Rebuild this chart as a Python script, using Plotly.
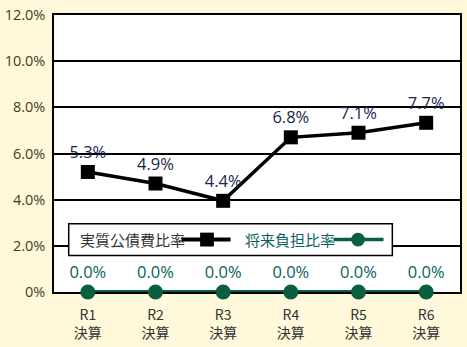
import plotly.graph_objects as go

categories = ["R1<br>決算", "R2<br>決算", "R3<br>決算", "R4<br>決算", "R5<br>決算", "R6<br>決算"]
# plotted positions (%)
debt_service_ratio = [5.2, 4.7, 3.95, 6.7, 6.9, 7.33]
debt_service_labels = ["5.3%", "4.9%", "4.4%", "6.8%", "7.1%", "7.7%"]
future_burden_ratio = [0.0, 0.0, 0.0, 0.0, 0.0, 0.0]
future_burden_labels = ["0.0%", "0.0%", "0.0%", "0.0%", "0.0%", "0.0%"]
ytick_vals = [0, 2, 4, 6, 8, 10, 12]
ytick_text = ["0%", "2.0%", "4.0%", "6.0%", "8.0%", "10.0%", "12.0%"]
series_names = ["実質公債費比率", "将来負担比率"]

BLACK = "#000000"
GREEN = "#0a5f40"
NAVY = "#1b2450"
TEAL = "#0b5f5c"
BG = "#fff8da"
FONT = "Noto Sans CJK JP"

fig = go.Figure()
fig.add_trace(go.Scatter(
    x=categories, y=future_burden_ratio, mode="lines+markers+text",
    text=future_burden_labels, textposition="top center",
    textfont=dict(color=TEAL, size=16.5, family="Open Sans"),
    line=dict(color=GREEN, width=4),
    marker=dict(symbol="circle", size=15, color=GREEN),
    cliponaxis=False, showlegend=False, name=series_names[1]))
fig.add_trace(go.Scatter(
    x=categories, y=debt_service_ratio, mode="lines+markers+text",
    text=debt_service_labels, textposition="top center",
    textfont=dict(color=NAVY, size=16.5, family="Open Sans"),
    line=dict(color=BLACK, width=3.5),
    marker=dict(symbol="square", size=14, color=BLACK),
    cliponaxis=False, showlegend=False, name=series_names[0]))

# manual legend (text followed by symbol)
fig.add_shape(type="rect", xref="paper", yref="paper",
              x0=(63 - 48) / 414, x1=(393 - 48) / 414,
              y0=(292 - 255) / 280, y1=(292 - 223) / 280,
              line=dict(color=BLACK, width=1.5), fillcolor="white", layer="above")
ly = (292 - 239) / 280
fig.add_annotation(xref="paper", yref="paper", x=(72 - 48) / 414, y=ly,
                   text=series_names[0], showarrow=False, xanchor="left", yanchor="middle",
                   font=dict(family=FONT, size=15, color="#333333"))
fig.add_shape(type="line", xref="paper", yref="paper",
              x0=(178 - 48) / 414, x1=(228 - 48) / 414, y0=ly, y1=ly,
              line=dict(color=BLACK, width=4), layer="above")
fig.add_shape(type="rect", xref="paper", yref="paper",
              x0=(197 - 48) / 414, x1=(211 - 48) / 414,
              y0=ly - 7 / 280, y1=ly + 7 / 280,
              line=dict(color=BLACK, width=0), fillcolor=BLACK, layer="above")
fig.add_annotation(xref="paper", yref="paper", x=(241 - 48) / 414, y=ly,
                   text=series_names[1], showarrow=False, xanchor="left", yanchor="middle",
                   font=dict(family=FONT, size=15, color=TEAL))
fig.add_shape(type="line", xref="paper", yref="paper",
              x0=(333 - 48) / 414, x1=(384 - 48) / 414, y0=ly, y1=ly,
              line=dict(color=GREEN, width=3.5), layer="above")
fig.add_shape(type="circle", xref="paper", yref="paper",
              x0=(351 - 48) / 414, x1=(365 - 48) / 414,
              y0=ly - 7 / 280, y1=ly + 7 / 280,
              line=dict(color=GREEN, width=0), fillcolor=GREEN, layer="above")

fig.update_layout(
    width=467, height=347,
    margin=dict(l=48, r=5, t=12, b=55),
    paper_bgcolor=BG, plot_bgcolor="white",
    font=dict(family=FONT, color="#333333"),
    showlegend=False,
)
fig.update_xaxes(
    range=[-0.5, 5.5], showgrid=False, showline=True, linecolor=BLACK, linewidth=1.5,
    mirror=True, ticks="", tickfont=dict(size=14, color="#333333", family=FONT),
    ticklabelstandoff=9,
    layer="below traces", fixedrange=True,
)
fig.update_yaxes(
    range=[0, 12], tickvals=ytick_vals, ticktext=ytick_text,
    showgrid=True, gridcolor=BLACK, gridwidth=1.5, zeroline=False,
    showline=True, linecolor=BLACK, linewidth=1.5, mirror=True, ticks="",
    ticklabelstandoff=4,
    tickfont=dict(size=14.5, color="#4a3a22", family="Open Sans"),
    layer="below traces", fixedrange=True,
)

fig.write_html("out.html")
